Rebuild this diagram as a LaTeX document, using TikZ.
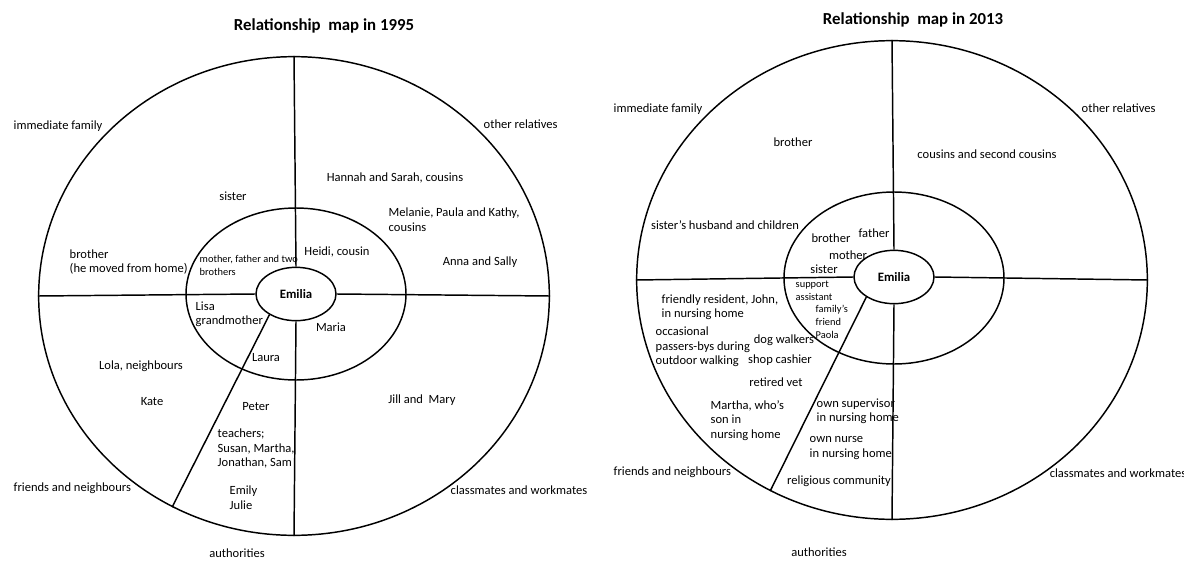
\documentclass[tikz,border=0pt]{standalone}
\usepackage{fontspec}
\setmainfont{Carlito}
\usetikzlibrary{shapes}

\begin{document}
\begin{tikzpicture}[x=0.75pt,y=-0.75pt,line width=1.1pt,
                   txt/.style={font=\fontsize{9.4}{10.8}\selectfont,inner sep=0pt},
                   lt/.style={txt,anchor=west,align=left},
                   smalltxt/.style={lt,font=\fontsize{7.8}{9.6}\selectfont},
                   heading/.style={font=\fontsize{12.6}{14}\selectfont\bfseries,inner sep=0pt},
                   outerring/.style={ellipse,draw,inner sep=0pt,minimum width=383pt,minimum height=359pt},
                   midring/.style={ellipse,draw,inner sep=0pt,minimum width=165pt,minimum height=129pt},
                   centre/.style={ellipse,draw,inner sep=0pt,minimum width=60pt,minimum height=40pt,font=\fontsize{9.6}{11}\selectfont\bfseries}]
\useasboundingbox (0,0) rectangle (1184,560);

% 1995
\node[heading] (title1) at (324,26) {Relationship~ map in 1995};
\node[outerring] (out1) at (294,296) {};
\node[midring] (mid1) at (296,294) {};
\node[centre] (emi1) at (296,294) {Emilia};
\draw (out1.north) -- (emi1.north);
\draw (emi1.south) -- (out1.south);
\draw (out1.west) -- (emi1.west);
\draw (emi1.east) -- (out1.east);
\draw (emi1.218) -- (out1.240);

\node[lt] (imm1) at (13,126) {immediate family};
\node[lt] (oth1) at (483,124) {other relatives};
\node[txt] (sis1) at (233,196) {sister};
\node[txt] (han1) at (395,178) {Hannah and Sarah, cousins};
\node[lt] (mel1) at (388,219.5) {Melanie, Paula and Kathy,\\cousins};
\node[lt] (bro1) at (69,262) {brother\\(he moved from home)};
\node[smalltxt] (par1) at (199,265.5) {mother, father and two\\brothers};
\node[txt] (hei1) at (337,252) {Heidi, cousin};
\node[txt] (ann1) at (480,262) {Anna and Sally};
\node[lt] (lis1) at (195,314) {Lisa\\grandmother};
\node[txt] (mar1) at (331,327) {Maria};
\node[txt] (lau1) at (266,358) {Laura};
\node[txt] (lol1) at (141,366) {Lola, neighbours};
\node[txt] (kat1) at (152,402) {Kate};
\node[txt] (pet1) at (256,407) {Peter};
\node[txt] (jil1) at (422,400) {Jill and~ Mary};
\node[lt] (tea1) at (217,448.5) {teachers;\\Susan, Martha,\\Jonathan, Sam};
\node[lt] (fri1) at (13,488) {friends and neighbours};
\node[lt] (emj1) at (229,497.5) {Emily\\Julie};
\node[lt] (cla1) at (450,490) {classmates and workmates};
\node[txt] (aut1) at (237,553) {authorities};

% 2013
\node[heading] (title2) at (913,20) {Relationship~ map in 2013};
\node[outerring] (out2) at (892,280) {};
\node[midring] (mid2) at (894,278) {};
\node[centre] (emi2) at (894,277) {Emilia};
\draw (out2.north) -- (emi2.north);
\draw (emi2.south) -- (out2.south);
\draw (out2.west) -- (emi2.west);
\draw (emi2.east) -- (out2.east);
\draw (emi2.216) -- (out2.240);

\node[lt] (imm2) at (613,109) {immediate family};
\node[lt] (oth2) at (1081,108) {other relatives};
\node[txt] (bro2) at (793,142) {brother};
\node[txt] (cou2) at (987,154) {cousins and second cousins};
\node[txt] (hus2) at (725,225) {sister's husband and children};
\node[txt] (brb2) at (831,238) {brother};
\node[txt] (fat2) at (874,233) {father};
\node[txt] (mot2) at (848,255) {mother};
\node[txt] (sis2) at (824,269) {sister};
\node[smalltxt] (sup2) at (795,291) {support\\assistant};
\node[smalltxt] (pao2) at (815,322) {family's\\friend\\Paola};
\node[lt] (joh2) at (661,307.5) {friendly resident, John,\\in nursing home};
\node[lt] (occ2) at (655,347) {occasional\\passers-bys during\\outdoor walking};
\node[txt] (dog2) at (784,340) {dog walkers};
\node[txt] (sho2) at (780,360) {shop cashier};
\node[txt] (vet2) at (776,382) {retired vet};
\node[lt] (mar2) at (710,420.5) {Martha, who's\\son in\\nursing home};
\node[lt] (svr2) at (816,411) {own supervisor\\in nursing home};
\node[lt] (nur2) at (809,448) {own nurse\\in nursing home};
\node[lt] (fri2) at (613,472) {friends and neighbours};
\node[txt] (rel2) at (839,481) {religious community};
\node[lt] (cla2) at (1049,473) {classmates and workmates};
\node[txt] (aut2) at (819,552) {authorities};
\end{tikzpicture}
\end{document}
